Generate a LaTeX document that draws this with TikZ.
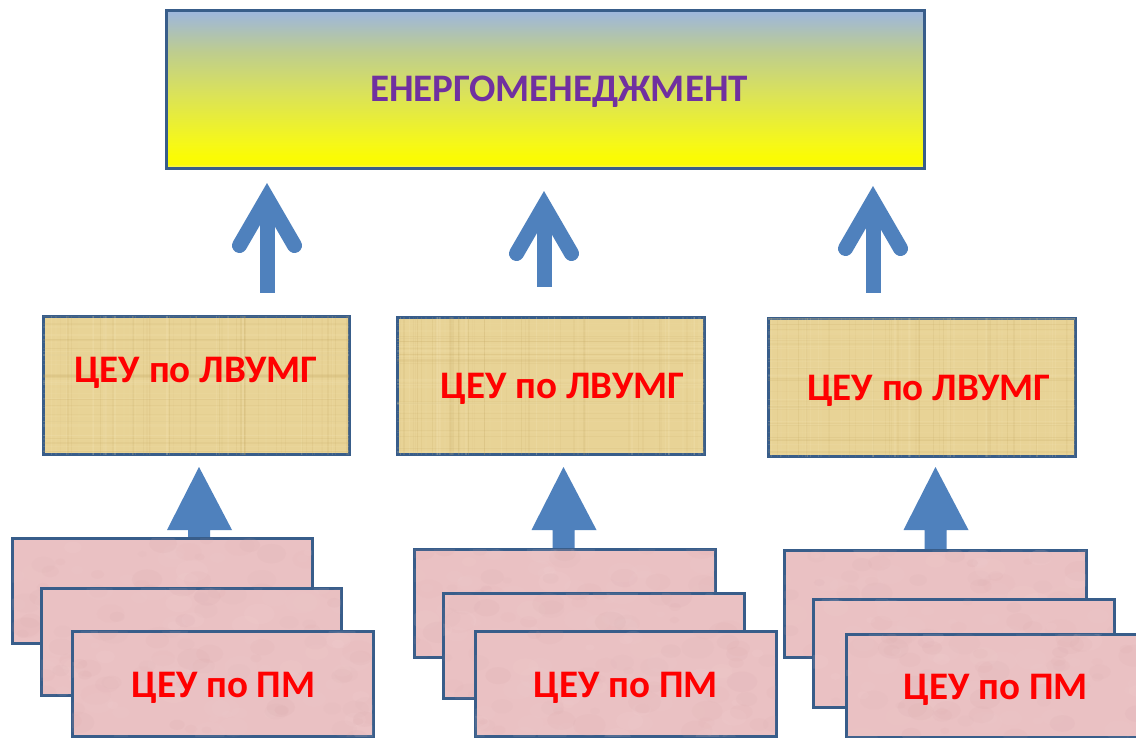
\documentclass[tikz,border=0pt]{standalone}
\usepackage{fontspec}
\setmainfont{Carlito}
\usetikzlibrary{calc}
\definecolor{boxborder}{RGB}{56,93,138}
\definecolor{arrowblue}{RGB}{79,129,189}
\definecolor{tanfill}{RGB}{232,211,150}
\definecolor{tandark}{RGB}{196,168,98}
\definecolor{tanlight}{RGB}{246,232,186}
\definecolor{pinkfill}{RGB}{234,193,195}
\definecolor{pinkdark}{RGB}{214,165,168}
\definecolor{pinklight}{RGB}{244,214,214}
\definecolor{purp}{RGB}{112,48,160}
\definecolor{txtred}{RGB}{255,0,0}
\definecolor{gTop}{RGB}{157,182,222}
\definecolor{gMid}{RGB}{190,205,142}
\definecolor{gMid2}{RGB}{218,226,90}
\definecolor{gYel}{RGB}{246,248,24}
\definecolor{gYel2}{RGB}{250,251,5}
\definecolor{gBot}{RGB}{236,240,175}
\pgfdeclareverticalshading{energyshade}{100bp}{%
  color(0bp)=(gBot); color(25bp)=(gBot); color(26.5bp)=(gYel2); color(29bp)=(gYel2);
  color(33bp)=(gYel); color(49bp)=(gMid2); color(62bp)=(gMid); color(75bp)=(gTop); color(100bp)=(gTop)}
\tikzset{
  basebox/.style={draw=boxborder, line width=3pt, inner sep=0pt, rectangle},
  topbox/.style={basebox, shading=energyshade},
  midbox/.style={basebox, fill=tanfill},
  pmbox/.style={basebox, fill=pinkfill},
  lbl/.style={font=\bfseries\fontsize{39}{41}\selectfont, text=txtred, inner sep=0pt, anchor=base},
  toplbl/.style={lbl, text=purp},
  shaft/.style={draw=arrowblue, line width=15pt, line cap=butt},
  wing/.style={draw=arrowblue, line width=15pt, line cap=round, line join=miter},
  blockfill/.style={fill=arrowblue}
}
\newcommand\lineup[2]{% #1 bottom coordinate, #2 join coordinate
  \draw[shaft] (#1) -- (#2);
  \draw[wing] ($(#2)+(-27.5,47.5)$) -- (#2) -- ($(#2)+(27.5,47.5)$);
}
\newcommand\blockup[1]{% #1 tip coordinate
  \fill[blockfill] ($(#1)+(-11,85)$) -- ($(#1)+(-11,63)$) -- ($(#1)+(-32,63)$) -- (#1)
     -- ($(#1)+(33,63)$) -- ($(#1)+(11,63)$) -- ($(#1)+(11,85)$) -- cycle;
}
% papyrus-like texture inside a node
\newcommand\papyrus[1]{%
  \begin{scope}
    \clip ($(#1.north west)+(1.5,1.5)$) rectangle ($(#1.south east)+(-1.5,-1.5)$);
    \foreach \k in {1,...,70}{
      \pgfmathsetmacro\px{rnd}
      \pgfmathsetmacro\op{0.05+0.14*rnd}
      \pgfmathsetmacro\lw{0.6+1.4*rnd}
      \pgfmathsetmacro\cl{rnd>0.5 ? "tandark" : "tanlight"}
      \draw[draw=\cl, opacity=\op, line width=\lw pt]
        ($(#1.north west)!\px!(#1.north east)$) -- ($(#1.south west)!\px!(#1.south east)$);
    }
    \foreach \k in {1,...,45}{
      \pgfmathsetmacro\py{rnd}
      \pgfmathsetmacro\op{0.05+0.12*rnd}
      \pgfmathsetmacro\lw{0.6+1.2*rnd}
      \pgfmathsetmacro\cl{rnd>0.5 ? "tandark" : "tanlight"}
      \draw[draw=\cl, opacity=\op, line width=\lw pt]
        ($(#1.north west)!\py!(#1.south west)$) -- ($(#1.north east)!\py!(#1.south east)$);
    }
  \end{scope}}
% mottled texture inside a node
\newcommand\mottle[1]{%
  \begin{scope}
    \clip ($(#1.north west)+(1.5,1.5)$) rectangle ($(#1.south east)+(-1.5,-1.5)$);
    \foreach \k in {1,...,90}{
      \pgfmathsetmacro\px{rnd}
      \pgfmathsetmacro\py{rnd}
      \pgfmathsetmacro\rr{3+8*rnd}
      \pgfmathsetmacro\op{0.04+0.08*rnd}
      \pgfmathsetmacro\cl{rnd>0.5 ? "pinkdark" : "pinklight"}
      \fill[fill=\cl, opacity=\op]
        ($($(#1.north west)!\px!(#1.north east)$)!\py!($(#1.south west)!\px!(#1.south east)$)$)
        circle[x radius=\rr*1.5, y radius=\rr];
    }
  \end{scope}}
\begin{document}
\begin{tikzpicture}[x=1pt,y=-1pt]
\pgfmathsetseed{4242}
\useasboundingbox[fill=white] (0,0) rectangle (1136,738);

% top box
\node[topbox, minimum width=758pt, minimum height=158pt] (top) at (545,90) {};
\node[toplbl] (toptxt) at (559,102) {ЕНЕРГОМЕНЕДЖМЕНТ};

% middle boxes
\node[midbox, minimum width=306pt, minimum height=137pt] (mid1) at (196,385.5) {};
\papyrus{mid1}
\node[midbox, minimum width=307pt, minimum height=136pt] (mid2) at (550.5,386) {};
\papyrus{mid2}
\node[midbox, minimum width=307pt, minimum height=137pt] (mid3) at (921.5,387.5) {};
\papyrus{mid3}
\node[lbl] (m1txt) at (196,382) {ЦЕУ по ЛВУМГ};
\node[lbl] (m2txt) at (562.5,398) {ЦЕУ по ЛВУМГ};
\node[lbl] (m3txt) at (929,400) {ЦЕУ по ЛВУМГ};

% upper arrows (mid boxes -> top box)
\coordinate (u1b) at (267,293); \coordinate (u1j) at (267,198);
\coordinate (u2b) at (544,287); \coordinate (u2j) at (544,206);
\coordinate (u3b) at (873,293); \coordinate (u3j) at (873,201);
\lineup{u1b}{u1j}
\lineup{u2b}{u2j}
\lineup{u3b}{u3j}

% lower arrows (stacks -> mid boxes)
\coordinate (l1t) at (199,467);
\coordinate (l2t) at (563.5,467);
\coordinate (l3t) at (935.5,467);
\blockup{l1t}
\blockup{l2t}
\blockup{l3t}

% stack 1
\node[pmbox, minimum width=300pt, minimum height=105pt] (s1a) at (162,590.5) {};
\mottle{s1a}
\node[pmbox, minimum width=300pt, minimum height=107pt] (s1b) at (191,641.5) {};
\mottle{s1b}
\node[pmbox, minimum width=301pt, minimum height=105pt] (s1c) at (222.5,683.5) {};
\mottle{s1c}
\node[lbl] (s1txt) at (223.5,697) {ЦЕУ по ПМ};
% stack 2
\node[pmbox, minimum width=301pt, minimum height=108pt] (s2a) at (564.5,603) {};
\mottle{s2a}
\node[pmbox, minimum width=301pt, minimum height=105pt] (s2b) at (593.5,645.5) {};
\mottle{s2b}
\node[pmbox, minimum width=301pt, minimum height=105pt] (s2c) at (625.5,683.5) {};
\mottle{s2c}
\node[lbl] (s2txt) at (626,697) {ЦЕУ по ПМ};
% stack 3
\node[pmbox, minimum width=302pt, minimum height=107pt] (s3a) at (935,603.5) {};
\mottle{s3a}
\node[pmbox, minimum width=301pt, minimum height=108pt] (s3b) at (963.5,653) {};
\mottle{s3b}
\node[pmbox, minimum width=301pt, minimum height=103pt] (s3c) at (996.5,685.5) {};
\mottle{s3c}
\node[lbl] (s3txt) at (996,699) {ЦЕУ по ПМ};
\end{tikzpicture}
\end{document}
